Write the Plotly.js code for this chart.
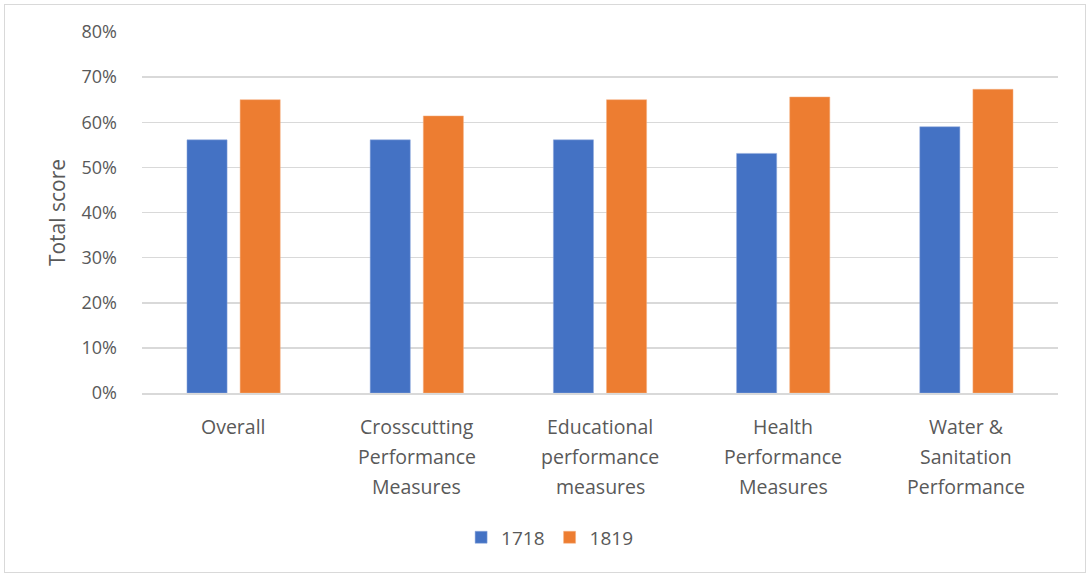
<!DOCTYPE html>
<html>
<head>
<meta charset="utf-8">
<script src="https://cdn.plot.ly/plotly-3.0.1.min.js"></script>
<style>
  html, body { margin: 0; padding: 0; background: #fff; }
  #wrap { position: relative; width: 1090px; height: 577px; }
  #chart { width: 1090px; height: 577px; }
  #frame { position: absolute; left: 4px; top: 4px; width: 1080px; height: 567px;
           border: 1.5px solid #d9d9d9; pointer-events: none; }
</style>
</head>
<body>
<div id="wrap">
  <div id="chart"></div>
  <div id="frame"></div>
</div>
<script>
const categories = [
  "Overall",
  "Crosscutting<br>Performance<br>Measures",
  "Educational<br>performance<br>measures",
  "Health<br>Performance<br>Measures",
  "Water &<br>Sanitation<br>Performance"
];
const seriesNames = ["1718", "1819"];
const values1718 = [0.561, 0.561, 0.561, 0.531, 0.590];
const values1819 = [0.650, 0.614, 0.650, 0.656, 0.673];
const yTickVals = [0, 0.1, 0.2, 0.3, 0.4, 0.5, 0.6, 0.7, 0.8];

const FONT = "'Open Sans', Lato, sans-serif";
const TXT = "#595959";

const traces = [
  { type: "bar", name: seriesNames[0], x: categories, y: values1718,
    marker: { color: "#4472C4", line: { color: "#8fa9dc", width: 0.5 } } },
  { type: "bar", name: seriesNames[1], x: categories, y: values1819,
    marker: { color: "#ED7D31", line: { color: "#f4b183", width: 0.5 } } }
];

const annotations = [];
categories.forEach(function (c) {
  c.split("<br>").forEach(function (line, i) {
    annotations.push({
      x: c, xref: "x", y: 0, yref: "paper", yanchor: "middle",
      text: line, showarrow: false, yshift: -33 - 30 * i,
      font: { family: FONT, size: 19.5, color: TXT }
    });
  });
});

const layout = {
  width: 1090, height: 577,
  margin: { l: 142, r: 32, t: 32, b: 184 },
  paper_bgcolor: "#fff", plot_bgcolor: "#fff",
  barmode: "group", bargap: 0.42, bargroupgap: 0.245,
  font: { family: FONT, size: 18, color: TXT },
  xaxis: { type: "category", showticklabels: false, ticks: "",
           showgrid: false, showline: true, linecolor: "#d9d9d9", linewidth: 1.5,
           fixedrange: true },
  yaxis: { range: [0, 0.8], tickvals: yTickVals, tickformat: ".0%",
           showgrid: true, gridcolor: "#d9d9d9", gridwidth: 1.5,
           zeroline: false, showline: false, ticks: "", ticklabelstandoff: 24,
           tickfont: { family: FONT, size: 18, color: TXT },
           title: { text: "Total score", standoff: 10,
                    font: { family: FONT, size: 21, color: TXT } },
           automargin: false, fixedrange: true },
  legend: { orientation: "h", x: 0.445, xanchor: "center", y: -0.4, yanchor: "middle",
            font: { family: FONT, size: 19, color: TXT }, itemwidth: 30,
            traceorder: "normal" },
  annotations: annotations,
  showlegend: true
};

Plotly.newPlot("chart", traces, layout, { displayModeBar: false, staticPlot: true });
</script>
</body>
</html>
